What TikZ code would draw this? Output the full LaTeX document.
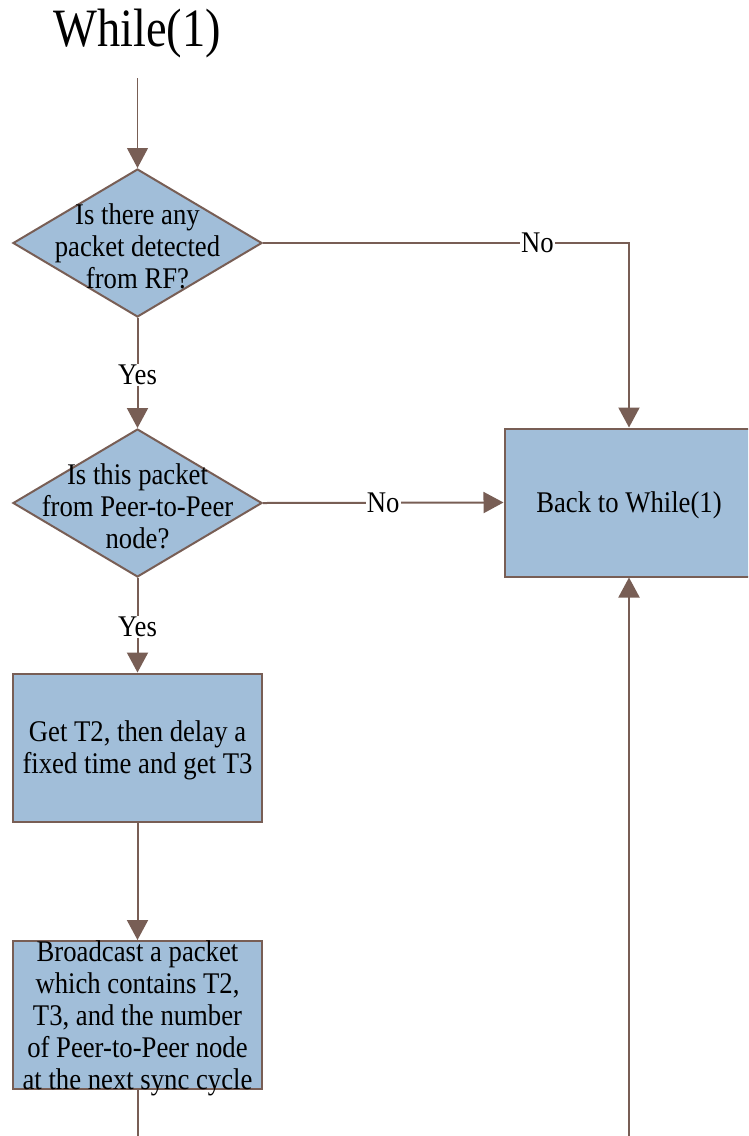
\documentclass[tikz,border=0pt]{standalone}
\usepackage{fontspec}
\setmainfont{Liberation Serif}[FakeStretch=0.89]
\newfontfamily\titlefont{Liberation Serif}[FakeStretch=0.86]
\usetikzlibrary{shapes.geometric,arrows.meta}
\definecolor{boxfill}{RGB}{161,190,217}
\definecolor{edgecol}{RGB}{120,94,85}
\begin{document}
\begin{tikzpicture}[x=1pt,y=-1pt,
  txt/.style={font=\fontsize{30}{32}\selectfont, align=center, inner sep=0pt},
  decision/.style={shape=diamond, draw=edgecol, fill=boxfill, line width=2pt, minimum width=249pt, minimum height=148pt, inner sep=0pt},
  stepbox/.style={shape=rectangle, draw=edgecol, fill=boxfill, line width=2pt, minimum width=249pt, minimum height=148pt, inner sep=0pt},
  conn/.style={draw=edgecol, line width=2pt, -{Triangle[length=20pt,width=21pt]}},
  plain/.style={draw=edgecol, line width=2pt},
  lab/.style={font=\fontsize{30}{32}\selectfont, fill=white, inner sep=1pt}]
\useasboundingbox (0,0) rectangle (748,1136);
\clip (0,0) rectangle (748,1136);
\fill[white] (0,0) rectangle (748,1136);

\node[inner sep=0pt, font=\titlefont\fontsize{54}{60}\selectfont] (title) at (137,34) {While(1)};
\coordinate (start) at (137.5,78);

\node[decision] (d1) at (137.5,243) {};
\node[txt] (d1t) at (137.5,246) {Is there any\\packet detected\\from RF?};

\node[decision] (d2) at (137.5,503) {};
\node[txt] (d2t) at (137.5,506) {Is this packet\\from Peer-to-Peer\\node?};

\node[stepbox] (b3) at (137.5,747.5) {};
\node[txt] (b3t) at (137.5,750.5) {Get T2, then delay a\\fixed time and get T3};

\node[stepbox] (b4) at (137.5,1015) {};
\node[txt] (b4t) at (137.5,1018) {Broadcast a packet\\which contains T2,\\T3, and the number\\of Peer-to-Peer node\\at the next sync cycle};

\node[stepbox] (back) at (629,502.5) {};
\node[txt] (backt) at (629,505) {Back to While(1)};

\coordinate (bottomL) at (137.5,1145);
\coordinate (bottomR) at (629,1145);

\draw[conn, line width=1pt] (start) -- (d1.north);
\draw[conn] (d1.south) -- node[lab, yshift=-2pt]{Yes} (d2.north);
\draw[conn] (d1.east) -- node[lab, pos=0.75]{No} (d1.east -| back.north) -- (back.north);
\draw[conn] (d2.east) -- node[lab]{No} (back.west);
\draw[conn] (d2.south) -- node[lab, yshift=-2pt]{Yes} (b3.north);
\draw[conn] (b3.south) -- (b4.north);
\draw[plain] (b4.south) -- (bottomL);
\draw[conn] (bottomR) -- (back.south);
\end{tikzpicture}
\end{document}
